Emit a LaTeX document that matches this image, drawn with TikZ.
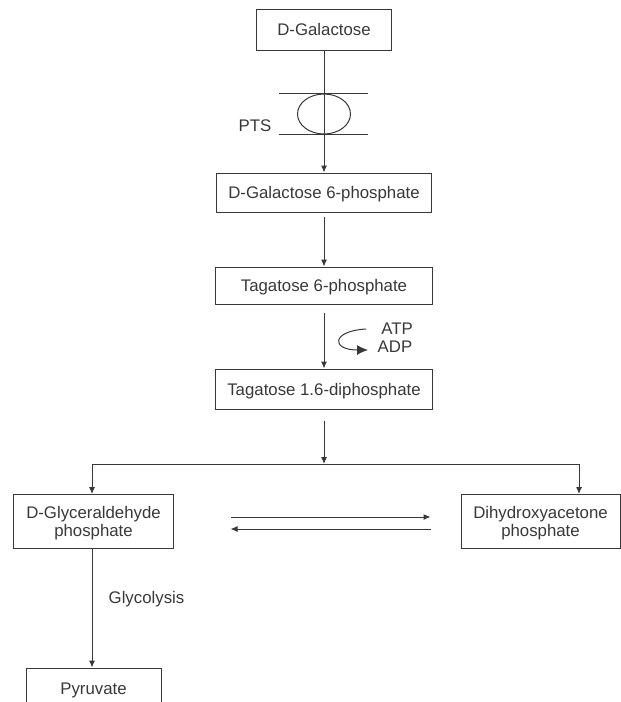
\documentclass[tikz,border=0pt]{standalone}
\usepackage{fontspec}
\setmainfont{Liberation Sans}
\usetikzlibrary{arrows.meta,shapes.geometric}
\begin{document}
\begin{tikzpicture}[x=1pt,y=-1pt,line width=1pt,black!78,
    font=\fontsize{16.8}{18.7}\selectfont,
    sugar/.style={draw,rectangle,inner sep=0pt,text depth=0pt,align=center},
    arr/.style={-{Latex[length=7pt,width=6pt]}}]
\path[use as bounding box,clip] (0,0) rectangle (621,702);

%boxes
\node[sugar,minimum width=135pt,minimum height=41pt] (gal) at (324,29.5){D-Galactose};
\node[sugar,minimum width=215pt,minimum height=39pt] (galsix) at (324,192.5){D-Galactose 6-phosphate};
\node[sugar,minimum width=217pt,minimum height=37pt] (tagsix) at (324,285.5){Tagatose 6-phosphate};
\node[sugar,minimum width=217pt,minimum height=40pt] (tagdi) at (324,389){Tagatose 1.6-diphosphate};
\node[sugar,minimum width=160pt,minimum height=54pt] (gap) at (93.5,521.5){D-Glyceraldehyde\\phosphate};
\node[sugar,minimum width=159pt,minimum height=54pt] (dhap) at (540.5,521.5){Dihydroxyacetone\\phosphate};
\node[sugar,minimum width=135pt,minimum height=41pt] (pyr) at (93.5,688.5){Pyruvate};

%transporter
\node[draw,ellipse,inner sep=0pt,minimum width=53pt,minimum height=40pt] (porter) at (324,114){};
\draw ([xshift=-45pt]porter.north) -- ([xshift=44pt]porter.north);
\draw ([xshift=-45pt]porter.south) -- ([xshift=44pt]porter.south);

%labels
\node[anchor=base] (pts) at (255,131){PTS};
\node[anchor=base] (atp) at (397,334){ATP};
\node[anchor=base] (adp) at (395,352){ADP};
\node[anchor=base] (glyc) at (146.5,603){Glycolysis};

%arrows
\draw[arr] (gal) -- (galsix);
\draw[arr,shorten <=4pt] (galsix) -- (tagsix);
\draw[arr,shorten <=8pt] (tagsix) -- (tagdi);
\draw[-{Latex[length=11pt,width=10pt]}] (366,329) .. controls (331,331) and (331,350) .. (368,350);

\coordinate (jn) at (324,464);
\coordinate (jl) at (92,464);
\coordinate (jr) at (579,464);
\draw[arr,shorten <=11pt] (tagdi) -- (jn);
\draw (jl) -- (jr);
\draw[arr] (jl) -- (jl |- gap.north);
\draw[arr] (jr) -- (jr |- dhap.north);

\draw[arr,shorten <=56.5pt,shorten >=30pt] ([yshift=4.5pt]gap.east) -- ([yshift=4.5pt]dhap.west);
\draw[arr,shorten <=30pt,shorten >=56.5pt] ([yshift=-7.5pt]dhap.west) -- ([yshift=-7.5pt]gap.east);

\draw[arr] (gap.south -| jl) -- (pyr.north -| jl);

\end{tikzpicture}
\end{document}
